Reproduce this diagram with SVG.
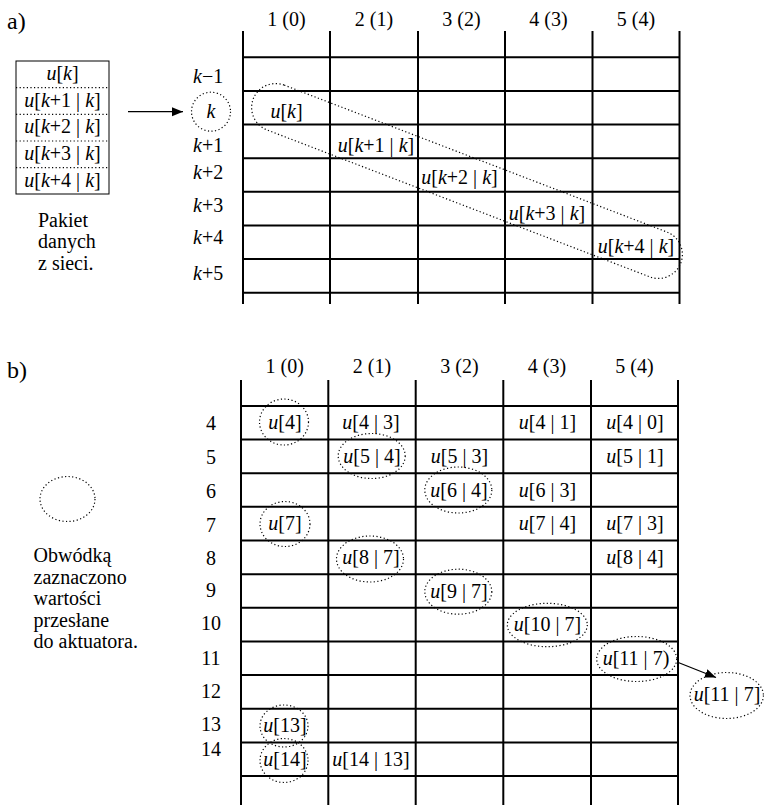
<svg xmlns="http://www.w3.org/2000/svg" width="764" height="805" viewBox="0 0 764 805">
  <style>
    text { font-family: "Liberation Serif", "Times New Roman", serif; font-size: 20px; fill: #000; }
    .c { text-anchor: middle; }
    .i { font-style: italic; }
    .lbl { font-size: 24px; }
    .grid { stroke: #000; stroke-width: 2; fill: none; }
    .thin { stroke: #000; stroke-width: 1; fill: none; }
    .dot { stroke: #000; stroke-width: 1.2; stroke-dasharray: 1.2 2.4; fill: none; }
    .arrow { stroke: #000; stroke-width: 1.3; fill: none; marker-end: url(#head); }
  </style>
  <defs>
    <marker id="head" markerUnits="userSpaceOnUse" markerWidth="12" markerHeight="10" refX="11" refY="4.5" orient="auto">
      <path d="M0,0 L11,4.5 L0,9 z" fill="#000"/>
    </marker>
  </defs>

  <rect width="764" height="805" fill="#fff"/>

  <!-- ===== part a) ===== -->
  <g id="label-a"><text class="lbl" x="7" y="29">a)</text></g>

  <g id="packet">
    <rect class="thin" x="16" y="61" width="93" height="133"/>
    <path class="dot" d="M16,87.7H109 M16,114.3H109 M16,141H109 M16,167.7H109"/>
    <text class="c" x="62.5" y="80"><tspan class="i">u</tspan>[<tspan class="i">k</tspan>]</text>
    <text class="c" x="62.5" y="106.7"><tspan class="i">u</tspan>[<tspan class="i">k</tspan>+1 | <tspan class="i">k</tspan>]</text>
    <text class="c" x="62.5" y="133.3"><tspan class="i">u</tspan>[<tspan class="i">k</tspan>+2 | <tspan class="i">k</tspan>]</text>
    <text class="c" x="62.5" y="160"><tspan class="i">u</tspan>[<tspan class="i">k</tspan>+3 | <tspan class="i">k</tspan>]</text>
    <text class="c" x="62.5" y="186.7"><tspan class="i">u</tspan>[<tspan class="i">k</tspan>+4 | <tspan class="i">k</tspan>]</text>
  </g>

  <g id="packet-caption">
    <text x="38" y="226.7">Pakiet</text>
    <text x="38" y="248.3">danych</text>
    <text x="38" y="270">z sieci.</text>
  </g>

  <g id="grid-a">
    <path class="grid" d="M243,31V304 M330,31V304 M418,31V304 M505,31V304 M592.5,31V304 M679.5,31V304"/>
    <path class="grid" d="M243,57.3H679.5 M243,91H679.5 M243,124.5H679.5 M243,158.2H679.5 M243,191.8H679.5 M243,225.5H679.5 M243,259H679.5 M243,292.7H679.5"/>
    <text class="c" x="286.5" y="26">1 (0)</text>
    <text class="c" x="374" y="26">2 (1)</text>
    <text class="c" x="461.5" y="26">3 (2)</text>
    <text class="c" x="548.5" y="26">4 (3)</text>
    <text class="c" x="636" y="26">5 (4)</text>
  </g>

  <g id="rows-a">
    <text x="193" y="82.7"><tspan class="i">k</tspan>−1</text>
    <text x="193" y="151.7"><tspan class="i">k</tspan>+1</text>
    <text x="193" y="179"><tspan class="i">k</tspan>+2</text>
    <text x="193" y="211.7"><tspan class="i">k</tspan>+3</text>
    <text x="193" y="244.3"><tspan class="i">k</tspan>+4</text>
    <text x="193" y="280"><tspan class="i">k</tspan>+5</text>
  </g>

  <g id="row-k">
    <circle class="dot" cx="211" cy="111.7" r="19.5"/>
    <text class="c i" x="211" y="117.5">k</text>
  </g>

  <g id="cells-a">
    <text class="c" x="286.5" y="118"><tspan class="i">u</tspan>[<tspan class="i">k</tspan>]</text>
    <text class="c" x="376" y="151.5"><tspan class="i">u</tspan>[<tspan class="i">k</tspan>+1 | <tspan class="i">k</tspan>]</text>
    <text class="c" x="459.5" y="184"><tspan class="i">u</tspan>[<tspan class="i">k</tspan>+2 | <tspan class="i">k</tspan>]</text>
    <text class="c" x="547" y="219.5"><tspan class="i">u</tspan>[<tspan class="i">k</tspan>+3 | <tspan class="i">k</tspan>]</text>
    <text class="c" x="636" y="252.5"><tspan class="i">u</tspan>[<tspan class="i">k</tspan>+4 | <tspan class="i">k</tspan>]</text>
  </g>

  <g id="diagonal-loop">
    <rect class="dot" x="-229" y="-24" width="458" height="48" rx="24" ry="24" transform="translate(467,181) rotate(21)"/>
  </g>

  <!-- ===== part b) ===== -->
  <g id="label-b"><text class="lbl" x="7" y="378">b)</text></g>

  <g id="legend">
    <ellipse class="dot" cx="67.5" cy="499" rx="27.5" ry="22.5"/>
    <text x="33.5" y="562">Obwódką</text>
    <text x="33.5" y="583.5">zaznaczono</text>
    <text x="33.5" y="605">wartości</text>
    <text x="33.5" y="626.5">przesłane</text>
    <text x="33.5" y="648">do aktuatora.</text>
  </g>

  <g id="grid-b">
    <path class="grid" d="M241,380V805 M328.3,380V805 M415.7,380V805 M503.3,380V805 M591,380V805 M678,380V805"/>
    <path class="grid" d="M241,406H678 M241,439.5H678 M241,473.3H678 M241,506.8H678 M241,540.6H678 M241,574.2H678 M241,607.8H678 M241,641.5H678 M241,675H678 M241,708.8H678 M241,742.5H678 M241,776H678"/>
    <text class="c" x="284.7" y="373">1 (0)</text>
    <text class="c" x="372" y="373">2 (1)</text>
    <text class="c" x="459.5" y="373">3 (2)</text>
    <text class="c" x="547" y="373">4 (3)</text>
    <text class="c" x="634.5" y="373">5 (4)</text>
  </g>

  <g id="rows-b">
    <text class="c" x="211" y="430">4</text>
    <text class="c" x="211" y="464">5</text>
    <text class="c" x="211" y="497.5">6</text>
    <text class="c" x="211" y="531.5">7</text>
    <text class="c" x="211" y="565">8</text>
    <text class="c" x="211" y="597">9</text>
    <text class="c" x="211" y="630">10</text>
    <text class="c" x="211" y="665">11</text>
    <text class="c" x="211" y="698">12</text>
    <text class="c" x="211" y="731">13</text>
    <text class="c" x="211" y="756">14</text>
  </g>

  <g id="cells-b">
    <text class="c" x="285" y="429"><tspan class="i">u</tspan>[4]</text>
    <text class="c" x="371" y="429"><tspan class="i">u</tspan>[4 | 3]</text>
    <text class="c" x="547.5" y="429"><tspan class="i">u</tspan>[4 | 1]</text>
    <text class="c" x="635" y="429"><tspan class="i">u</tspan>[4 | 0]</text>

    <text class="c" x="372" y="463"><tspan class="i">u</tspan>[5 | 4]</text>
    <text class="c" x="459.5" y="463"><tspan class="i">u</tspan>[5 | 3]</text>
    <text class="c" x="635" y="463"><tspan class="i">u</tspan>[5 | 1]</text>

    <text class="c" x="459" y="496.5"><tspan class="i">u</tspan>[6 | 4]</text>
    <text class="c" x="547.5" y="496.5"><tspan class="i">u</tspan>[6 | 3]</text>

    <text class="c" x="285" y="530"><tspan class="i">u</tspan>[7]</text>
    <text class="c" x="547.5" y="530"><tspan class="i">u</tspan>[7 | 4]</text>
    <text class="c" x="635" y="530"><tspan class="i">u</tspan>[7 | 3]</text>

    <text class="c" x="371" y="564"><tspan class="i">u</tspan>[8 | 7]</text>
    <text class="c" x="635" y="564"><tspan class="i">u</tspan>[8 | 4]</text>

    <text class="c" x="459" y="597.5"><tspan class="i">u</tspan>[9 | 7]</text>

    <text class="c" x="547.5" y="631"><tspan class="i">u</tspan>[10 | 7]</text>

    <text class="c" x="636" y="664.5"><tspan class="i">u</tspan>[11 | 7)</text>

    <text class="c" x="285" y="732"><tspan class="i">u</tspan>[13]</text>

    <text class="c" x="285" y="766"><tspan class="i">u</tspan>[14]</text>
    <text class="c" x="371" y="766"><tspan class="i">u</tspan>[14 | 13]</text>
  </g>

  <g id="sent-marks">
    <ellipse class="dot" cx="284" cy="422" rx="24.5" ry="23"/>
    <ellipse class="dot" cx="371.7" cy="456" rx="33.5" ry="22.5"/>
    <ellipse class="dot" cx="458.3" cy="490" rx="33.5" ry="23"/>
    <ellipse class="dot" cx="285" cy="524" rx="25" ry="22.5"/>
    <ellipse class="dot" cx="370" cy="559" rx="33.5" ry="23"/>
    <ellipse class="dot" cx="458.3" cy="591.7" rx="33.5" ry="22.5"/>
    <ellipse class="dot" cx="547.3" cy="625" rx="40" ry="21.7"/>
    <ellipse class="dot" cx="636.7" cy="659" rx="40" ry="22.5"/>
    <ellipse class="dot" cx="284" cy="726" rx="24" ry="21"/>
    <ellipse class="dot" cx="284" cy="760.5" rx="24" ry="22"/>
  </g>

  <g id="output-node">
    <ellipse class="dot" cx="726.7" cy="695.5" rx="36.7" ry="23"/>
    <text class="c" x="727" y="701"><tspan class="i">u</tspan>[11 | 7]</text>
  </g>

  <g id="connectors">
    <line class="arrow" x1="128" y1="111.7" x2="183" y2="111.7"/>
    <line class="arrow" x1="677" y1="662" x2="716" y2="677.5"/>
  </g>
</svg>
